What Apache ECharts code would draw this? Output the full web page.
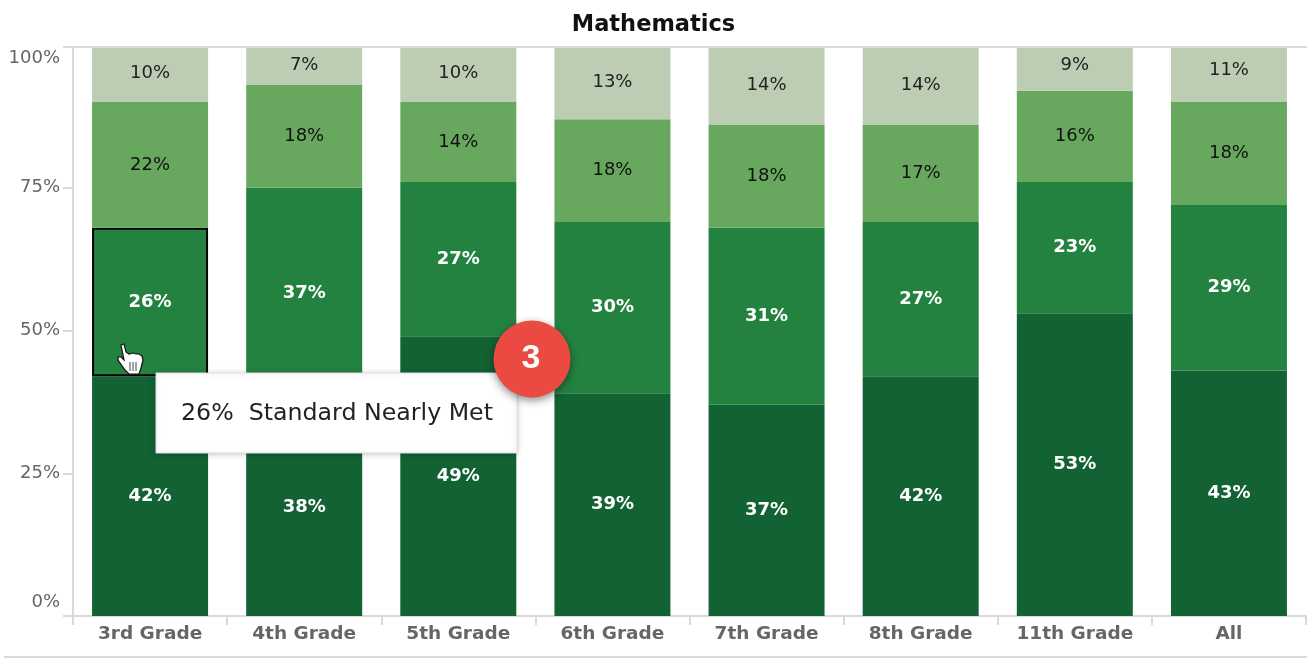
<!DOCTYPE html>
<html>
<head>
<meta charset="utf-8">
<title>Mathematics</title>
<script src="https://cdn.jsdelivr.net/npm/echarts@6/dist/echarts.min.js"></script>
<style>
  html, body { margin: 0; padding: 0; background: #fff; }
  #chart { width: 1307px; height: 658px; }
</style>
</head>
<body>
<div id="chart"></div>
<script>
const grades = ['3rd Grade', '4th Grade', '5th Grade', '6th Grade', '7th Grade', '8th Grade', '11th Grade', 'All']
const notMet = [42, 38, 49, 39, 37, 42, 53, 43]
const nearlyMet = [26, 37, 27, 30, 31, 27, 23, 29]
const met = [22, 18, 14, 18, 18, 17, 16, 18]
const exceeded = [10, 7, 10, 13, 14, 14, 9, 11]

const font = '"DejaVu Sans", sans-serif'

const makeSeries = (name, values, color, labelColor, labelWeight) => ({
  name,
  type: 'bar',
  stack: 'total',
  data: values,
  barWidth: 116,
  clip: false, // 11th Grade and All add up to 101, the white strip hides the overflow
  itemStyle: { color },
  label: {
    show: true,
    position: 'inside',
    formatter: '{c}%',
    color: labelColor,
    fontFamily: font,
    fontSize: 18,
    fontWeight: labelWeight
  },
  animation: false
})

const chart = echarts.init(document.getElementById('chart'), null, { renderer: 'canvas' })

const highlighted = makeSeries('Standard Nearly Met', nearlyMet, '#248241', '#ffffff', 'bold')
// hovered segment gets the black outline
highlighted.data = nearlyMet.map((v, i) => i === 0
  ? { value: v, itemStyle: { borderColor: '#000000', borderWidth: 2 } }
  : v)

chart.setOption({
  backgroundColor: '#ffffff',
  title: {
    text: 'Mathematics',
    left: 'center',
    top: 9,
    textStyle: { color: '#111111', fontFamily: font, fontSize: 22.5, fontWeight: 'bold' }
  },
  grid: { left: 73, right: 1, top: 45, bottom: 42 },
  xAxis: {
    type: 'category',
    data: grades,
    axisLine: { lineStyle: { color: '#d9d9d9', width: 2 } },
    axisTick: { show: true, interval: 0, length: 9, lineStyle: { color: '#d9d9d9', width: 2 } },
    axisLabel: { interval: 0, color: '#666666', fontFamily: font, fontSize: 18.5, fontWeight: 'bold', margin: 9 }
  },
  yAxis: {
    type: 'value',
    min: 0,
    max: 100,
    interval: 25,
    axisLine: { show: true, lineStyle: { color: '#d9d9d9', width: 2 } },
    axisTick: { show: true, length: 10, lineStyle: { color: '#d9d9d9', width: 2 } },
    splitLine: { show: false },
    axisLabel: {
      color: '#666666',
      fontFamily: font,
      fontSize: 18,
      lineHeight: 27,
      margin: 13,
      verticalAlignMinLabel: 'bottom',
      verticalAlignMaxLabel: 'top',
      formatter: '{value}%'
    }
  },
  series: [
    makeSeries('Standard Not Met', notMet, '#126234', '#ffffff', 'bold'),
    highlighted,
    makeSeries('Standard Met', met, '#68a85e', '#111111', 'normal'),
    makeSeries('Standard Exceeded', exceeded, '#bccdb4', '#222222', 'normal')
  ],
  graphic: [
    {
      // white strip above the plot, covers bar tops past the top rule
      type: 'rect',
      z: 90,
      shape: { x: 60, y: 36, width: 1247, height: 11 },
      style: { fill: '#ffffff' }
    },
    {
      // top rule of the plot
      type: 'line',
      z: 91,
      shape: { x1: 63, y1: 47, x2: 1307, y2: 47 },
      style: { stroke: '#d9d9d9', lineWidth: 2 }
    },
    {
      // hand cursor
      type: 'polygon',
      z: 100,
      shape: {
        points: [[121, 345], [124, 344], [126, 352], [129, 354], [133, 353], [136, 354], [139, 354], [142, 356], [143, 360], [141, 368], [139, 374], [129, 374], [125, 370], [118, 360], [118, 357], [121, 357], [124, 360]]
      },
      style: { fill: '#ffffff', stroke: '#111111', lineWidth: 1.2 }
    },
    { type: 'line', z: 101, shape: { x1: 130, y1: 362, x2: 130, y2: 371 }, style: { stroke: '#444444', lineWidth: 1 } },
    { type: 'line', z: 101, shape: { x1: 133, y1: 362, x2: 133, y2: 371 }, style: { stroke: '#444444', lineWidth: 1 } },
    { type: 'line', z: 101, shape: { x1: 136, y1: 362, x2: 136, y2: 371 }, style: { stroke: '#444444', lineWidth: 1 } },
    {
      // tooltip box
      type: 'rect',
      z: 100,
      shape: { x: 156, y: 373, width: 361, height: 80 },
      style: { fill: '#ffffff', stroke: '#e0e0e0', lineWidth: 1, shadowBlur: 6, shadowColor: 'rgba(0,0,0,0.2)', shadowOffsetY: 1 }
    },
    {
      type: 'text',
      z: 101,
      x: 181,
      y: 414,
      style: {
        text: '26%  Standard Nearly Met',
        fill: '#222222',
        font: '23.7px ' + font,
        verticalAlign: 'middle'
      }
    },
    {
      // numbered badge
      type: 'circle',
      z: 102,
      shape: { cx: 532, cy: 359, r: 38.5 },
      style: { fill: '#ea4a42', shadowBlur: 8, shadowColor: 'rgba(0,0,0,0.45)', shadowOffsetY: 3 }
    },
    {
      type: 'text',
      z: 103,
      x: 531,
      y: 359,
      style: {
        text: '3',
        fill: '#ffffff',
        font: 'bold 34px "Liberation Sans", sans-serif',
        align: 'center',
        verticalAlign: 'middle'
      }
    },
    {
      // thin rule along the bottom of the panel
      type: 'line',
      z: 1,
      shape: { x1: 4, y1: 657, x2: 1307, y2: 657 },
      style: { stroke: '#cccccc', lineWidth: 1.5 }
    }
  ]
})
</script>
</body>
</html>
